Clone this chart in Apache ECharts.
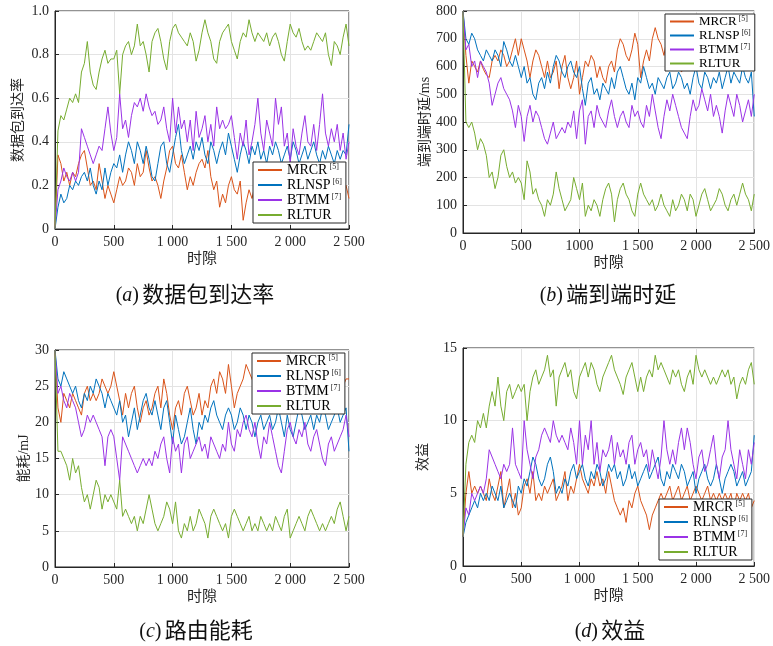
<!DOCTYPE html>
<html><head><meta charset="utf-8">
<script src="https://cdn.jsdelivr.net/npm/echarts@6/dist/echarts.min.js"></script>
<style>html,body{margin:0;padding:0;background:#fff}#c{width:773px;height:646px}</style>
</head><body><div id="c"></div>
<script>
// ---------------- data ----------------
const seriesNames = ['MRCR','RLNSP','BTMM','RLTUR'];
const seriesRefs = {MRCR:'[5]', RLNSP:'[6]', BTMM:'[7]', RLTUR:''};
const slotStep = 25; // one sample every 25 time slots, 0..2500
const xTickLabelsA = ['0','500','1 000','1 500','2 000','2 500'];
const xTickLabelsB = ['0','500','1000','1 500','2 000','2 500'];
const xTickLabelsC = ['0','500','1 000','1 500','2 000','2 500'];
const xTickLabelsD = ['0','500','1 000','1 500','2 000','2 500'];
const yTickLabelsA = ['0','0.2','0.4','0.6','0.8','1.0'];
const yTickLabelsB = ['0','100','200','300','400','500','600','700','800'];
const yTickLabelsC = ['0','5','10','15','20','25','30'];
const yTickLabelsD = ['0','5','10','15'];

// (a) packet delivery ratio
const a_MRCR = [0.00,0.34,0.30,0.22,0.26,0.20,0.26,0.24,0.30,0.34,
0.36,0.28,0.20,0.22,0.18,0.30,0.22,0.14,0.20,0.16,
0.12,0.18,0.24,0.20,0.22,0.28,0.26,0.20,0.30,0.24,
0.26,0.36,0.28,0.22,0.24,0.20,0.14,0.22,0.28,0.36,
0.38,0.30,0.28,0.34,0.26,0.18,0.24,0.20,0.26,0.30,
0.32,0.28,0.36,0.24,0.18,0.22,0.10,0.16,0.12,0.20,
0.24,0.18,0.16,0.22,0.04,0.12,0.18,0.14,0.20,0.24,
0.18,0.22,0.26,0.20,0.16,0.22,0.24,0.18,0.20,0.26,
0.22,0.18,0.24,0.20,0.16,0.22,0.26,0.20,0.18,0.24,
0.20,0.16,0.22,0.26,0.20,0.18,0.24,0.22,0.18,0.20,
0.14];
const a_RLNSP = [0.00,0.10,0.16,0.12,0.14,0.20,0.18,0.22,0.20,0.24,
0.26,0.22,0.28,0.20,0.16,0.22,0.18,0.28,0.20,0.26,
0.30,0.28,0.34,0.26,0.34,0.40,0.36,0.30,0.40,0.36,
0.30,0.38,0.32,0.24,0.22,0.30,0.38,0.40,0.30,0.26,
0.34,0.42,0.48,0.36,0.30,0.34,0.38,0.32,0.40,0.36,
0.42,0.34,0.30,0.40,0.36,0.30,0.36,0.40,0.34,0.44,
0.38,0.32,0.26,0.34,0.40,0.36,0.30,0.38,0.34,0.40,
0.32,0.36,0.30,0.38,0.34,0.40,0.36,0.30,0.34,0.38,
0.32,0.40,0.36,0.30,0.34,0.38,0.32,0.36,0.40,0.34,
0.30,0.36,0.32,0.38,0.34,0.30,0.36,0.32,0.36,0.34,
0.48];
const a_BTMM = [0.00,0.18,0.22,0.28,0.24,0.22,0.26,0.22,0.26,0.46,
0.42,0.38,0.34,0.30,0.34,0.38,0.36,0.46,0.56,0.44,
0.36,0.42,0.62,0.46,0.50,0.42,0.52,0.58,0.56,0.60,
0.54,0.62,0.56,0.52,0.54,0.48,0.50,0.56,0.46,0.40,
0.60,0.44,0.56,0.46,0.50,0.40,0.50,0.36,0.54,0.42,
0.46,0.52,0.40,0.48,0.38,0.56,0.46,0.50,0.46,0.48,
0.52,0.42,0.32,0.44,0.38,0.50,0.34,0.40,0.48,0.60,
0.44,0.36,0.50,0.44,0.38,0.60,0.48,0.56,0.38,0.44,
0.30,0.46,0.38,0.34,0.44,0.52,0.40,0.38,0.48,0.36,
0.48,0.62,0.44,0.38,0.46,0.40,0.48,0.36,0.44,0.32,
0.40];
const a_RLTUR = [0.00,0.45,0.52,0.50,0.55,0.60,0.58,0.62,0.58,0.72,
0.76,0.86,0.72,0.66,0.64,0.72,0.78,0.82,0.76,0.78,
0.78,0.82,0.62,0.80,0.84,0.86,0.80,0.84,0.94,0.84,
0.86,0.80,0.72,0.86,0.90,0.92,0.86,0.78,0.73,0.86,
0.92,0.94,0.90,0.88,0.86,0.84,0.90,0.86,0.77,0.82,
0.90,0.96,0.90,0.86,0.78,0.76,0.86,0.90,0.92,0.94,
0.86,0.82,0.78,0.86,0.90,0.88,0.96,0.90,0.86,0.90,
0.88,0.86,0.90,0.84,0.88,0.90,0.86,0.80,0.77,0.86,
0.94,0.90,0.88,0.92,0.86,0.82,0.84,0.82,0.86,0.90,
0.88,0.86,0.90,0.80,0.75,0.86,0.84,0.80,0.88,0.94,
0.84];

// (b) end-to-end delay (ms)
const b_MRCR = [800,640,540,620,600,580,620,590,570,560,
620,640,620,660,640,600,620,660,700,640,
700,660,620,560,620,660,640,600,560,620,
560,580,620,520,600,640,560,520,560,620,
500,560,620,600,640,620,560,600,560,540,
600,620,580,660,700,680,640,620,660,720,
680,560,620,660,620,700,740,700,680,640,
700,660,620,600,620,580,600,620,640,600,
590,620,640,600,620,660,640,600,620,640,
600,620,660,640,600,620,640,620,600,680,
700];
const b_RLNSP = [800,700,680,720,700,660,640,620,660,640,
620,660,640,600,690,660,620,600,640,600,
560,600,540,560,500,480,540,560,520,580,
540,600,640,620,580,560,600,620,580,560,
600,520,460,540,560,500,520,480,540,520,
500,560,520,580,600,560,520,500,540,480,
560,540,600,560,520,540,500,560,540,520,
560,580,520,540,580,560,520,540,500,560,
600,540,520,580,560,520,560,540,580,520,
560,600,540,580,560,540,600,560,540,580,
420];
const b_BTMM = [800,660,680,600,620,560,620,600,580,540,
460,500,540,560,520,500,480,440,380,460,
420,330,420,460,400,440,420,380,340,320,
360,400,340,360,380,360,400,380,440,340,
440,480,320,420,440,380,460,420,400,380,
440,480,420,380,420,440,400,380,460,420,
440,400,380,460,420,500,440,380,340,420,
480,440,500,460,420,380,360,340,420,480,
440,460,520,480,440,500,420,460,420,360,
440,500,460,420,500,460,400,440,480,420,
500];
const b_RLTUR = [800,400,380,400,360,300,340,320,280,200,
220,160,200,280,300,240,200,220,180,200,
180,120,260,220,140,160,120,100,60,120,
100,140,220,160,120,80,100,120,200,160,
120,180,60,100,80,120,100,60,120,160,
180,140,40,120,160,180,140,120,80,60,
140,180,140,120,100,120,80,100,140,100,
80,60,120,80,100,140,120,80,140,120,
60,100,140,160,120,80,100,120,160,140,
100,80,120,140,100,140,180,140,120,80,
140];

// (c) routing energy consumption (mJ)
const c_MRCR = [30,22,20,24,23,22,24,23,22,21,
24,25,23,24,23,24,26,25,24,25,
27,25,23,21,24,22,24,25,22,20,
22,23,21,22,24,25,22,26,24,21,
19,22,23,21,24,25,23,21,22,24,
21,23,22,25,26,24,27,26,24,28,
25,22,24,25,26,28,27,26,25,27,
25,24,26,25,23,24,26,25,24,23,
25,24,26,25,24,26,25,23,24,26,
25,24,26,25,24,23,25,24,25,26,
26];
const c_RLNSP = [30,26,25,27,26,25,24,25,23,22,
24,23,25,24,26,25,24,22,24,23,
22,21,23,20,21,18,20,22,19,21,
23,24,22,21,23,21,19,22,23,20,
17,21,19,17,18,20,22,19,17,20,
19,21,20,22,23,21,20,19,21,22,
21,19,20,22,21,19,21,20,18,20,
21,19,20,21,19,20,22,20,18,21,
19,18,20,22,21,19,20,21,19,21,
20,22,21,19,20,21,22,20,21,22,
16];
const c_BTMM = [30,24,25,23,22,24,23,22,20,18,
19,21,20,21,20,19,18,14,18,19,
18,15,12,18,17,16,15,14,13,14,
15,14,15,14,16,15,17,18,15,13,
18,16,17,13,17,18,15,16,17,18,
16,17,15,18,17,16,15,17,16,20,
17,16,19,18,20,21,19,18,20,17,
15,18,17,20,18,16,14,13,16,19,
20,18,17,19,18,20,17,16,18,19,
17,15,14,17,18,16,17,18,19,21,
18];
const c_RLTUR = [30,16,16,15,14,12,15,13,14,11,
9,10,8,10,12,11,8,10,9,10,
9,8,12,7,8,7,6,7,5,7,
6,8,10,8,6,5,6,7,9,8,
6,9,5,4,6,5,7,5,6,8,
7,6,4,7,8,7,6,5,6,4,
7,8,7,6,5,6,7,5,6,5,
7,6,5,6,5,7,6,5,7,8,
4,5,6,7,6,5,7,8,7,6,
5,6,5,6,7,6,8,9,7,5,
7];

// (d) utility
const d_MRCR = [2,5,6.5,5,5.5,5,5.5,5,4.5,6,
5,4.5,5.5,6.5,4,5,6,4,5,3.5,
4,5.5,6,5,6.5,4.5,5,4.5,5.5,5,
5.5,6,4.5,5,5.5,6.5,4.5,5.5,5,6,
7,6,5.5,5,6,5.5,6.5,5.5,6,5,
6.5,5.5,4.5,4,3.5,4,3,4.5,4,5,
5.5,4.5,4,3.5,2.5,3.5,4,4.5,5,4.5,
5,5.5,4.5,5,5.5,4.5,5,5.5,4.5,5,
5.5,5,4.5,5,5.5,4.5,5,4.5,5,4.5,
5,4.5,5,4,5,4.5,5,4.5,5,4,
4.5];
const d_RLNSP = [2,3,3.5,4,4.5,4,5,4.5,5,4.5,
5.5,5,4.5,5.5,4,4.5,5,4.5,4,5.5,
5,6,5.5,6.5,7.5,7,6,5.5,6,7,
7.5,6.5,5,5.5,5,6,5.5,6.5,7,6,
6.5,7,6,5.5,6.5,6,7,6.5,5.5,6,
7,6.5,7,6,6.5,5.5,6,7,6,6.5,
5.5,6,6.5,7,6,6.5,7,7.5,6,5.5,
6.5,6,7,6.5,6,7,6.5,5.5,6,6.5,
5,6,6.5,7,6,5.5,6,7,6,5,
6,6.5,7,6.5,5.5,6,6.5,5.5,6,6.5,
9];
const d_BTMM = [2,4,3.5,5,4.5,5,5.5,5,6,8,
7.5,7,6.5,6,7,6.5,7,9.5,7,6.5,
6,10,8,7,6,7.5,8,9,9.5,9,
8.5,10,9,8.5,9,8.5,8,9.5,8.5,7,
10,7,9,8,10,7,8.5,6.5,8,7.5,
8,9,7,8.5,7.5,8,7,8.5,9,7,
8,8.5,7.5,8,6.5,8,7,6,7.5,10,
8,7,8,7,8.5,9.5,8,9.5,8.5,7,
6,7.5,8,6.5,7,8,9,7,6,7.5,
8,10,8,7,6,8,7,6,8,7,
8.5];
const d_RLTUR = [2,7,8.5,9,8.5,10,9.5,10.5,9.5,11,
12,11,13,11,10,12,12.5,11.5,12,12.5,
12,12.5,10,12,13,13.5,12.5,13,13.5,14.5,
13,13.5,11,13,13.5,14,13,13.5,12,11.5,
13,13.5,14,13,14,13.5,12.5,12,13,13.5,
14,14.5,13.5,13,12.5,11.8,13,13.5,14,13,
12,13,12,13,13.5,13,14.5,13.5,14,13.5,
13,12.5,13.5,13,13.5,12.5,12,13,13.5,12.5,
14.5,13.5,13,13.5,13,12.5,13,12.5,13,13.5,
13,13.5,12.5,13,11.5,12.5,13,12.5,13.5,14,
12.5];

// ---------------- chart ----------------
const colors = {MRCR:'#D95319', RLNSP:'#0072BD', BTMM:'#9A33E6', RLTUR:'#77AC30'};
const serif = "'Liberation Serif','Times New Roman',serif";
const cjk = "'Liberation Serif','Noto Sans CJK SC',serif";
const axisColor = '#262626';

const panels = [
  {grid:{left:55, top:11, width:294, height:218}, data:[a_MRCR,a_RLNSP,a_BTMM,a_RLTUR],
   ymax:1, yint:0.2, ylabels:yTickLabelsA, xlabels:xTickLabelsA, yname:'数据包到达率', ygap:30,
   legend:{left:253, top:162, fs:14, lh:14, gap:1}},
  {grid:{left:463, top:11, width:294, height:222}, data:[b_MRCR,b_RLNSP,b_BTMM,b_RLTUR],
   ymax:800, yint:100, ylabels:yTickLabelsB, xlabels:xTickLabelsB, yname:'端到端时延/ms', ygap:30,
   legend:{left:665, top:14, fs:13, lh:13, gap:1}},
  {grid:{left:55, top:350, width:294, height:217}, data:[c_MRCR,c_RLNSP,c_BTMM,c_RLTUR],
   ymax:30, yint:5, ylabels:yTickLabelsC, xlabels:xTickLabelsC, yname:'能耗/mJ', ygap:24,
   legend:{left:252, top:353, fs:14, lh:14, gap:1}},
  {grid:{left:463, top:348, width:294, height:218}, data:[d_MRCR,d_RLNSP,d_BTMM,d_RLTUR],
   ymax:15, yint:5, ylabels:yTickLabelsD, xlabels:xTickLabelsD, yname:'效益', ygap:33,
   legend:{left:659, top:499, fs:14, lh:14, gap:1}}
];

const grid=[], xAxis=[], yAxis=[], series=[], legend=[];
panels.forEach((p, k) => {
  grid.push(Object.assign({show:true, borderColor:axisColor, borderWidth:1, backgroundColor:'transparent'}, p.grid));
  xAxis.push({type:'value', gridIndex:k, min:0, max:2500, interval:500,
    name:'时隙', nameLocation:'middle', nameGap:23,
    nameTextStyle:{fontFamily:cjk, fontSize:15, color:axisColor},
    axisLine:{show:true, lineStyle:{color:axisColor}},
    axisTick:{show:true, inside:true, length:4, lineStyle:{color:axisColor}},
    axisLabel:{fontFamily:serif, fontSize:14, color:axisColor, margin:6,
      formatter:(v)=>p.xlabels[Math.round(v/500)]},
    splitLine:{show:true, lineStyle:{color:'#e3e3e3', width:1}}});
  yAxis.push({type:'value', gridIndex:k, min:0, max:p.ymax, interval:p.yint,
    name:p.yname, nameLocation:'middle', nameGap:p.ygap, nameRotate:90,
    nameTextStyle:{fontFamily:cjk, fontSize:14, color:axisColor},
    axisLine:{show:true, lineStyle:{color:axisColor}},
    axisTick:{show:true, inside:true, length:4, lineStyle:{color:axisColor}},
    axisLabel:{fontFamily:serif, fontSize:14, color:axisColor, margin:6,
      formatter:(v)=>p.ylabels[Math.round(v/p.yint)]},
    splitLine:{show:true, lineStyle:{color:'#e3e3e3', width:1}}});
  seriesNames.forEach((nm, j) => {
    series.push({type:'line', name:nm, xAxisIndex:k, yAxisIndex:k,
      data:p.data[j].map((v,i)=>[i*slotStep, v]),
      showSymbol:false, symbol:'none', smooth:false, z:2+j,
      lineStyle:{color:colors[nm], width:1}, itemStyle:{color:colors[nm]}});
  });
  legend.push({orient:'vertical', left:p.legend.left, top:p.legend.top,
    data:seriesNames, selectedMode:false, backgroundColor:'#fff',
    borderColor:axisColor, borderWidth:1, borderRadius:0, padding:[1,4,1,5],
    itemGap:p.legend.gap, itemWidth:24, itemHeight:2, icon:'rect', z:10,
    formatter:(nm)=> seriesRefs[nm] ? '{n|'+nm+'}{s|'+seriesRefs[nm]+'}' : '{n|'+nm+'}',
    textStyle:{fontFamily:serif, fontSize:p.legend.fs, color:'#000', padding:[0,0,0,0],
      rich:{n:{fontFamily:serif, fontSize:p.legend.fs, lineHeight:p.legend.lh, color:'#000'},
            s:{fontFamily:serif, fontSize:8, lineHeight:8, verticalAlign:'top', color:'#222', padding:[0,0,0,2]}}}});
});

function caption(x, y, letter, text){
  return {type:'text', x:x, y:y, silent:true,
    style:{text:'{p|(}{i|'+letter+'}{p|)} {z|'+text+'}', align:'center', verticalAlign:'middle',
      rich:{p:{fontFamily:serif, fontSize:20, fill:'#111'},
            i:{fontFamily:serif, fontStyle:'italic', fontSize:20, fill:'#111'},
            z:{fontFamily:cjk, fontSize:22, fill:'#111'}}}};
}

const chart = echarts.init(document.getElementById('c'));
chart.setOption({
  animation:false, backgroundColor:'#fff',
  grid, xAxis, yAxis, series, legend,
  graphic:[caption(195,296,'a','数据包到达率'), caption(608,296,'b','端到端时延'),
           caption(196,632,'c','路由能耗'), caption(610,632,'d','效益')]
});
</script></body></html>
